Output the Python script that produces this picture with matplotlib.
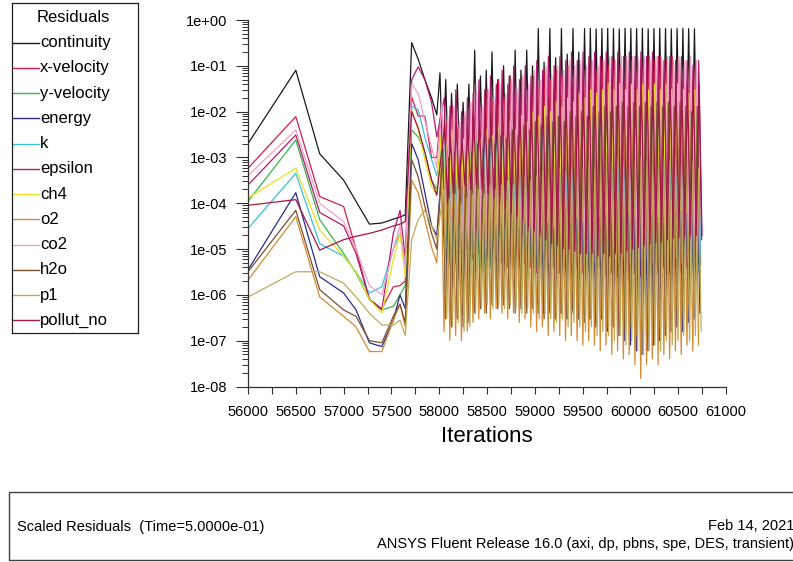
import numpy as np
import matplotlib
matplotlib.use('Agg')
import matplotlib.pyplot as plt
from matplotlib.ticker import LogLocator, MultipleLocator, FuncFormatter, NullFormatter
from matplotlib.patches import Rectangle

plt.rcParams['font.family'] = ['Liberation Sans', 'DejaVu Sans']

names = ['continuity', 'x-velocity', 'y-velocity', 'energy', 'k', 'epsilon',
         'ch4', 'o2', 'co2', 'h2o', 'p1', 'pollut_no']
colors = ['#1a1a1a', '#d0204a', '#3cb44b', '#2b2b8c', '#38c0d8', '#b01c6e',
          '#e8e020', '#d48a30', '#f0a0c8', '#7a5030', '#c0aa58', '#a01848']

# iterations before the periodic part
start_iters = [56000, 56500, 56750, 57000, 57130, 57270, 57400, 57520, 57590,
               57645, 57712, 57780, 57850, 57920, 57975]
# periodic part: one peak and one low per time step
step_first = 58008
step_len = 60.5
n_steps = 45
low_offset = 30
# iteration inside a step where each equation peaks
peak_shift = [0, 9, 18, 27, 36, 45, 4, 13, 22, 31, 40, 49]

cont_start = [2e-3, 8e-2, 1.2e-3, 3.2e-4, 1.1e-4, 3.5e-5, 3.7e-5, 4.5e-5, 5e-5, 5.6e-5, 3.2e-1, 1.4e-1, 5e-2, 2e-2, 8.5e-3]
cont_hi = [7e-2, 5e-2, 2.5e-2, 4e-2, 1.6e-2,
           4e-2, 2.2e-1, 6e-2, 8e-2, 2e-1,
           5e-2, 1e-1, 6e-2, 2.2e-1, 8e-2,
           2.2e-1, 1e-1, 6.5e-1, 1.2e-1, 6.5e-1,
           1.5e-1, 6.5e-1, 1.8e-1, 6.5e-1, 2e-1,
           6.5e-1, 6.6e-1, 6.4e-1, 6.5e-1, 6.6e-1,
           6.5e-1, 6.4e-1, 6.6e-1, 6.5e-1, 6.5e-1,
           6.6e-1, 6.4e-1, 6.5e-1, 6.6e-1, 6.5e-1,
           6.4e-1, 6.5e-1, 6.6e-1, 6.5e-1, 6.4e-1]
cont_lo = [5e-4, 3e-4, 4e-4, 2.5e-4, 3e-4,
           2e-4, 2.5e-4, 1.6e-4, 2e-4, 1.3e-4,
           1.6e-4, 1.2e-4, 1.5e-4, 1e-4, 1.3e-4,
           1e-4, 1.2e-4, 9e-5, 1.1e-4, 8e-5,
           1e-4, 8e-5, 1e-4, 7e-5, 9e-5,
           7e-5, 9e-5, 8e-5, 1e-4, 8e-5,
           9e-5, 1e-4, 8e-5, 1e-4, 9e-5,
           1e-4, 1.2e-4, 9e-5, 1.1e-4, 1e-4,
           1.1e-4, 1e-4, 1.2e-4, 1.1e-4, 1.2e-4]

xvel_start = [5.8e-4, 7.8e-3, 1.4e-4, 8.5e-5, 1e-5, 8e-7, 5e-7, 1.5e-6, 1.6e-6, 2e-6, 2.1e-2, 8e-3, 8e-3, 1e-3, 1e-3]
xvel_hi = [1e-2, 6e-3, 1.3e-2, 5e-3, 8e-3,
           1.6e-2, 4e-2, 1.3e-2, 3e-2, 1.6e-2,
           5e-2, 2e-2, 6e-2, 2.5e-2, 6e-2,
           3e-2, 6e-2, 4e-2, 8e-2, 5e-2,
           8e-2, 6e-2, 1e-1, 6e-2, 1e-1,
           8e-2, 1.3e-1, 8e-2, 1.3e-1, 1e-1,
           1.3e-1, 1e-1, 1.6e-1, 1.3e-1, 1.6e-1,
           1.3e-1, 1.6e-1, 1.3e-1, 1.6e-1, 1.3e-1,
           1.6e-1, 1.3e-1, 1e-1, 1.3e-1, 1e-1]
xvel_lo = [2e-5, 1e-5, 1.3e-5, 8e-6, 1e-5,
           6e-6, 8e-6, 5e-6, 6e-6, 4e-6,
           5e-6, 4e-6, 6e-6, 4e-6, 5e-6,
           4e-6, 3e-6, 5e-6, 3e-6, 4e-6,
           3e-6, 4e-6, 2.5e-6, 4e-6, 3e-6,
           4e-6, 3e-6, 4e-6, 2.5e-6, 3e-6,
           2.5e-6, 3e-6, 2e-6, 3e-6, 2.5e-6,
           3e-6, 2.5e-6, 3e-6, 4e-6, 3e-6,
           4e-6, 3e-6, 4e-6, 5e-6, 5e-6]

yvel_start = [1.1e-4, 2.4e-3, 4.4e-5, 8e-6, 3e-6, 8e-7, 4.7e-7, 5.6e-7, 1e-6, 1.6e-6, 4e-3, 2.8e-3, 1.3e-3, 3.2e-4, 2e-4]
yvel_hi = [1.6e-3, 1e-3, 2e-3, 8e-4, 1.3e-3,
           1.6e-3, 2.5e-3, 1.3e-3, 2e-3, 1.6e-3,
           2.5e-3, 2e-3, 3e-3, 2e-3, 4e-3,
           3e-3, 4e-3, 3e-3, 5e-3, 4e-3,
           5e-3, 4e-3, 6e-3, 5e-3, 6e-3,
           5e-3, 8e-3, 6e-3, 8e-3, 6e-3,
           8e-3, 6e-3, 1e-2, 8e-3, 1e-2,
           8e-3, 1e-2, 8e-3, 1e-2, 8e-3,
           1e-2, 8e-3, 1e-2, 8e-3, 1e-2]
yvel_lo = [8e-6, 4e-6, 5e-6, 3e-6, 4e-6,
           3e-6, 4e-6, 3e-6, 4e-6, 3e-6,
           4e-6, 5e-6, 4e-6, 5e-6, 4e-6,
           5e-6, 4e-6, 5e-6, 4e-6, 5e-6,
           4e-6, 3e-6, 4e-6, 3e-6, 4e-6,
           3e-6, 4e-6, 3e-6, 4e-6, 3e-6,
           4e-6, 3e-6, 4e-6, 3e-6, 4e-6,
           3e-6, 4e-6, 3e-6, 4e-6, 3e-6,
           4e-6, 3e-6, 4e-6, 3e-6, 3e-6]

energy_start = [3.5e-6, 1.7e-4, 2.5e-6, 1.1e-6, 4.7e-7, 9e-8, 7.4e-8, 2.8e-7, 1e-6, 5e-7, 2e-3, 9e-4, 1.7e-4, 3.2e-5, 2e-5]
energy_hi = [1e-3, 6e-4, 8e-4, 5e-4, 6e-4,
             8e-4, 1e-3, 8e-4, 1.3e-3, 1e-3,
             1.3e-3, 1e-3, 1.6e-3, 1.3e-3, 1.6e-3,
             1.3e-3, 2e-3, 1.6e-3, 2e-3, 1.6e-3,
             2e-3, 2.5e-3, 2e-3, 2.5e-3, 2e-3,
             2.5e-3, 3e-3, 2.5e-3, 3e-3, 2.5e-3,
             3e-3, 2.5e-3, 3e-3, 2.5e-3, 3e-3,
             2.5e-3, 3e-3, 2.5e-3, 3e-3, 2.5e-3,
             3e-3, 2.5e-3, 3e-3, 2.5e-3, 2e-3]
energy_lo = [1e-6, 5e-7, 8e-7, 4e-7, 6e-7,
             2e-6, 3e-6, 2e-6, 3e-6, 2e-6,
             3e-6, 2e-6, 1.6e-6, 2e-6, 1.3e-6,
             1e-6, 6e-7, 4e-7, 5e-7, 3e-7,
             4e-7, 3e-7, 5e-7, 3e-7, 4e-7,
             3e-7, 2e-7, 3e-7, 1.6e-7, 2e-7,
             1.3e-7, 1e-7, 8e-8, 6e-8, 5e-8,
             6e-8, 8e-8, 1e-7, 1.3e-7, 1.6e-7,
             2e-7, 1.6e-7, 2.5e-7, 3e-7, 4e-7]

k_start = [2.8e-5, 4.5e-4, 1.3e-5, 7e-6, 3.2e-6, 1.1e-6, 1.5e-6, 1e-5, 2.2e-5, 5e-6, 1.3e-2, 1.1e-2, 2.8e-3, 9e-4, 4e-4]
k_hi = [2.5e-3, 1.6e-3, 3e-3, 1.3e-3, 2e-3,
        2.5e-3, 3e-3, 2e-3, 3e-3, 2.5e-3,
        3e-3, 4e-3, 3e-3, 5e-3, 4e-3,
        5e-3, 4e-3, 6e-3, 5e-3, 6e-3,
        5e-3, 6e-3, 8e-3, 6e-3, 8e-3,
        6e-3, 8e-3, 1e-2, 8e-3, 1e-2,
        8e-3, 1e-2, 8e-3, 1e-2, 8e-3,
        1e-2, 8e-3, 1e-2, 8e-3, 1e-2,
        8e-3, 1e-2, 8e-3, 1e-2, 8e-3]
k_lo = [1e-5, 5e-6, 4e-6, 3e-6, 4e-6,
        5e-6, 8e-6, 1e-5, 1.3e-5, 1.6e-5,
        1.3e-5, 1.6e-5, 1.3e-5, 1e-5, 1.3e-5,
        1e-5, 1.3e-5, 1e-5, 8e-6, 1e-5,
        8e-6, 1e-5, 8e-6, 6e-6, 8e-6,
        6e-6, 8e-6, 6e-6, 8e-6, 6e-6,
        8e-6, 6e-6, 8e-6, 6e-6, 8e-6,
        6e-6, 8e-6, 6e-6, 5e-6, 6e-6,
        5e-6, 6e-6, 5e-6, 5e-6, 4.5e-6]

eps_start = [2.5e-4, 3.1e-3, 6.3e-5, 3.2e-5, 8e-6, 8e-7, 4.7e-7, 2.2e-5, 7e-5, 6.3e-6, 5e-2, 9.5e-2, 5e-2, 1.6e-2, 2.8e-3]
eps_hi = [2e-2, 1.3e-2, 3e-2, 1e-2, 2e-2,
          2.5e-2, 5e-2, 3e-2, 6e-2, 4e-2,
          8e-2, 4e-2, 1e-1, 5e-2, 1e-1,
          6e-2, 1.3e-1, 8e-2, 1.6e-1, 1e-1,
          1.6e-1, 1.3e-1, 2e-1, 1.3e-1, 2e-1,
          1.6e-1, 2e-1, 1.6e-1, 2e-1, 1.6e-1,
          2e-1, 1.6e-1, 2e-1, 1.6e-1, 2e-1,
          1.6e-1, 2e-1, 1.6e-1, 1.3e-1, 1.6e-1,
          1.3e-1, 1.6e-1, 1.3e-1, 1e-1, 1.3e-1]
eps_lo = [6e-5, 4e-5, 5e-5, 3e-5, 4e-5,
          3e-5, 4e-5, 2.5e-5, 3e-5, 2e-5,
          3e-5, 2e-5, 2.5e-5, 2e-5, 2.5e-5,
          2e-5, 2.5e-5, 1.6e-5, 2e-5, 1.6e-5,
          2e-5, 1.6e-5, 2e-5, 1.3e-5, 1.6e-5,
          1.3e-5, 1.6e-5, 1.3e-5, 1.6e-5, 1.3e-5,
          1.6e-5, 1.3e-5, 1.6e-5, 1.3e-5, 1.6e-5,
          1.3e-5, 1.6e-5, 1.3e-5, 1.6e-5, 1.5e-5,
          1.6e-5, 1.5e-5, 1.6e-5, 1.5e-5, 1.6e-5]

ch4_start = [1.3e-4, 5.8e-4, 2.6e-5, 7e-6, 3.2e-6, 8e-7, 4e-7, 5.8e-6, 2.2e-5, 2.5e-6, 1.1e-2, 4e-3, 9e-4, 2.3e-4, 1.5e-4]
ch4_hi = [3e-3, 2e-3, 4e-3, 1.6e-3, 2.5e-3,
          2e-3, 3e-3, 2.5e-3, 4e-3, 3e-3,
          5e-3, 3e-3, 6e-3, 4e-3, 8e-3,
          6e-3, 1e-2, 8e-3, 1.3e-2, 1e-2,
          1.6e-2, 1.3e-2, 2e-2, 1.6e-2, 2.5e-2,
          2e-2, 3e-2, 2.5e-2, 3e-2, 4e-2,
          3e-2, 4e-2, 3e-2, 4e-2, 3e-2,
          4e-2, 3e-2, 4e-2, 3e-2, 4e-2,
          3e-2, 4e-2, 3e-2, 2.5e-2, 3e-2]
ch4_lo = [1e-4, 6e-5, 8e-5, 5e-5, 6e-5,
          4e-5, 5e-5, 3e-5, 4e-5, 3e-5,
          4e-5, 3e-5, 4e-5, 3e-5, 4e-5,
          3e-5, 4e-5, 3e-5, 4e-5, 3e-5,
          4e-5, 5e-5, 4e-5, 5e-5, 4e-5,
          5e-5, 4e-5, 5e-5, 6e-5, 5e-5,
          6e-5, 5e-5, 6e-5, 5e-5, 6e-5,
          5e-5, 6e-5, 5e-5, 6e-5, 6e-5,
          6e-5, 7e-5, 6e-5, 7e-5, 7e-5]

o2_start = [2.1e-6, 5.1e-5, 9e-7, 3.4e-7, 2e-7, 5.8e-8, 5.8e-8, 2.8e-7, 6.3e-7, 2e-7, 3.2e-4, 1.7e-4, 4.4e-5, 1.1e-5, 5e-6]
o2_hi = [6e-4, 4e-4, 5e-4, 3e-4, 4e-4,
         5e-4, 6e-4, 5e-4, 8e-4, 6e-4,
         8e-4, 1e-3, 8e-4, 1.3e-3, 1e-3,
         1.3e-3, 1e-3, 1.6e-3, 1.3e-3, 1.6e-3,
         2e-3, 1.6e-3, 2e-3, 2.5e-3, 2e-3,
         2.5e-3, 3e-3, 2.5e-3, 3e-3, 4e-3,
         3e-3, 4e-3, 3e-3, 4e-3, 3e-3,
         4e-3, 3e-3, 4e-3, 3e-3, 4e-3,
         3e-3, 4e-3, 3e-3, 4e-3, 3e-3]
o2_lo = [1.6e-7, 1e-7, 1.3e-7, 1e-7, 1.6e-7,
         2.5e-7, 3e-7, 4e-7, 3e-7, 5e-7,
         4e-7, 3e-7, 4e-7, 2.5e-7, 3e-7,
         2e-7, 1.6e-7, 2e-7, 1.3e-7, 1.6e-7,
         1.3e-7, 1e-7, 1.3e-7, 1e-7, 8e-8,
         1e-7, 8e-8, 6e-8, 8e-8, 5e-8,
         6e-8, 4e-8, 5e-8, 3e-8, 1.5e-8,
         3e-8, 4e-8, 3e-8, 5e-8, 4e-8,
         6e-8, 5e-8, 8e-8, 6e-8, 8e-8]

co2_start = [4e-4, 4e-3, 1e-4, 4e-5, 1e-5, 1.6e-6, 1e-6, 1e-5, 3.2e-5, 4e-6, 4e-2, 2.5e-2, 6.3e-3, 1.7e-3, 6e-4]
co2_hi = [1.6e-2, 8e-3, 1.3e-2, 6e-3, 1e-2,
          1.6e-2, 2.5e-2, 1.3e-2, 3e-2, 2e-2,
          4e-2, 2.5e-2, 5e-2, 3e-2, 6e-2,
          4e-2, 8e-2, 5e-2, 1e-1, 6e-2,
          1e-1, 8e-2, 1.3e-1, 1e-1, 1.3e-1,
          1e-1, 1.3e-1, 1e-1, 1.3e-1, 1.6e-1,
          1.3e-1, 1.6e-1, 1.3e-1, 1.6e-1, 1.3e-1,
          1.6e-1, 1.3e-1, 1.6e-1, 1.3e-1, 1.6e-1,
          1.3e-1, 1.6e-1, 1.3e-1, 1.6e-1, 1.3e-1]
co2_lo = [2e-5, 1.3e-5, 1.6e-5, 1e-5, 1.3e-5,
          1e-5, 1.3e-5, 8e-6, 1e-5, 8e-6,
          1e-5, 8e-6, 6e-6, 8e-6, 6e-6,
          8e-6, 6e-6, 8e-6, 5e-6, 6e-6,
          5e-6, 6e-6, 5e-6, 6e-6, 5e-6,
          6e-6, 5e-6, 6e-6, 5e-6, 6e-6,
          5e-6, 6e-6, 5e-6, 6e-6, 5e-6,
          6e-6, 5e-6, 6e-6, 5e-6, 6e-6,
          6e-6, 5e-6, 6e-6, 6e-6, 8e-6]

h2o_start = [3.2e-6, 7e-5, 1.3e-6, 4.7e-7, 3.4e-7, 1e-7, 9e-8, 3.4e-7, 6.3e-7, 2.5e-7, 9e-4, 3.8e-4, 8.5e-5, 2.2e-5, 1e-5]
h2o_hi = [1.6e-3, 1e-3, 1.3e-3, 8e-4, 1e-3,
          1.3e-3, 2e-3, 1.6e-3, 2.5e-3, 2e-3,
          3e-3, 2.5e-3, 4e-3, 3e-3, 5e-3,
          4e-3, 6e-3, 5e-3, 8e-3, 6e-3,
          8e-3, 6e-3, 1e-2, 8e-3, 1e-2,
          8e-3, 1.3e-2, 1e-2, 1.3e-2, 1e-2,
          1.3e-2, 1.6e-2, 1.3e-2, 1.6e-2, 1.3e-2,
          1.6e-2, 1.3e-2, 1.6e-2, 1.3e-2, 1.6e-2,
          1.3e-2, 1.6e-2, 1.3e-2, 1e-2, 1.3e-2]
h2o_lo = [3e-7, 2e-7, 3e-7, 2e-7, 2.5e-7,
          4e-7, 5e-7, 4e-7, 6e-7, 5e-7,
          6e-7, 5e-7, 4e-7, 5e-7, 4e-7,
          5e-7, 4e-7, 3e-7, 4e-7, 3e-7,
          4e-7, 3e-7, 4e-7, 3e-7, 2.5e-7,
          3e-7, 2.5e-7, 3e-7, 2e-7, 2.5e-7,
          2e-7, 1.6e-7, 2e-7, 1.3e-7, 1.6e-7,
          1.3e-7, 1.6e-7, 2e-7, 2.5e-7, 3e-7,
          4e-7, 5e-7, 6e-7, 8e-7, 1e-6]

p1_start = [9e-7, 3.2e-6, 3.2e-6, 1.8e-6, 9e-7, 4e-7, 2.2e-7, 2.2e-7, 2.8e-7, 1.3e-7, 1.6e-5, 4.4e-5, 7e-5, 3.2e-5, 1.6e-5]
p1_hi = [2e-4, 1.3e-4, 1.6e-4, 1e-4, 1.3e-4,
         1.6e-4, 2e-4, 1.6e-4, 2.5e-4, 2e-4,
         2.5e-4, 3e-4, 2.5e-4, 3e-4, 4e-4,
         3e-4, 4e-4, 5e-4, 4e-4, 5e-4,
         6e-4, 5e-4, 6e-4, 8e-4, 6e-4,
         8e-4, 6e-4, 8e-4, 1e-3, 8e-4,
         1e-3, 8e-4, 1e-3, 8e-4, 1e-3,
         8e-4, 1e-3, 8e-4, 1e-3, 8e-4,
         1e-3, 8e-4, 1e-3, 8e-4, 6e-4]
p1_lo = [3e-7, 2e-7, 2.5e-7, 1.6e-7, 2e-7,
         4e-7, 5e-7, 6e-7, 5e-7, 6e-7,
         5e-7, 6e-7, 5e-7, 4e-7, 5e-7,
         4e-7, 3e-7, 4e-7, 3e-7, 2.5e-7,
         3e-7, 2e-7, 2.5e-7, 2e-7, 1.6e-7,
         2e-7, 1.3e-7, 1.6e-7, 1.3e-7, 1e-7,
         1.3e-7, 8e-8, 1e-7, 6e-8, 5e-8,
         6e-8, 8e-8, 6e-8, 1e-7, 8e-8,
         1e-7, 1.3e-7, 1e-7, 1.3e-7, 1.6e-7]

pno_start = [9e-5, 1.2e-4, 9.5e-6, 1.6e-5, 1.9e-5, 2.2e-5, 2.6e-5, 3.2e-5, 3.5e-5, 4e-5, 1e-2, 4.4e-3, 1.3e-3, 3.2e-4, 1.5e-4]
pno_hi = [5e-3, 3e-3, 6e-3, 2.5e-3, 4e-3,
          8e-3, 5e-3, 1e-2, 6e-3, 1.3e-2,
          8e-3, 1.6e-2, 1e-2, 2e-2, 1.3e-2,
          2e-2, 1.6e-2, 2.5e-2, 2e-2, 3e-2,
          2.5e-2, 3e-2, 4e-2, 3e-2, 4e-2,
          5e-2, 4e-2, 5e-2, 6e-2, 5e-2,
          6e-2, 5e-2, 6e-2, 5e-2, 6e-2,
          5e-2, 6e-2, 5e-2, 6e-2, 5e-2,
          6e-2, 5e-2, 4e-2, 5e-2, 4e-2]
pno_lo = [1e-4, 1.6e-4, 2e-4, 2.5e-4, 2e-4,
          2.5e-4, 2e-4, 1.6e-4, 1.3e-4, 1e-4,
          8e-5, 6e-5, 5e-5, 4e-5, 3e-5,
          2.5e-5, 2e-5, 1.6e-5, 1.3e-5, 1.2e-5,
          1e-5, 1e-5, 9e-6, 8e-6, 8e-6,
          8e-6, 7e-6, 8e-6, 7e-6, 8e-6,
          8e-6, 9e-6, 1e-5, 1.1e-5, 1.2e-5,
          1.3e-5, 1.4e-5, 1.5e-5, 1.6e-5, 1.7e-5,
          1.8e-5, 1.9e-5, 2e-5, 2e-5, 2e-5]

series = [
    (cont_start, cont_hi, cont_lo),
    (xvel_start, xvel_hi, xvel_lo),
    (yvel_start, yvel_hi, yvel_lo),
    (energy_start, energy_hi, energy_lo),
    (k_start, k_hi, k_lo),
    (eps_start, eps_hi, eps_lo),
    (ch4_start, ch4_hi, ch4_lo),
    (o2_start, o2_hi, o2_lo),
    (co2_start, co2_hi, co2_lo),
    (h2o_start, h2o_hi, h2o_lo),
    (p1_start, p1_hi, p1_lo),
    (pno_start, pno_hi, pno_lo),
]

step_iters = step_first + step_len * np.arange(n_steps)


def residual_trace(start, hi, lo, shift):
    # start-up points, then peak / low of every time step
    cx = np.empty(2 * n_steps)
    cx[0::2] = step_iters + shift
    cx[1::2] = step_iters + shift + low_offset
    cy = np.empty(2 * n_steps)
    cy[0::2] = hi
    cy[1::2] = lo
    return np.concatenate([start_iters, cx]), np.concatenate([start, cy])


W, H = 793, 562
fig = plt.figure(figsize=(W / 100, H / 100), dpi=100)

# main residual plot
ax = fig.add_axes([248 / W, 1 - 386.5 / H, 478 / W, 366.5 / H])
for (start, hi, lo), c, sh in zip(series, colors, peak_shift):
    xs, ys = residual_trace(start, hi, lo, sh)
    ax.plot(xs, ys, color=c, lw=0.9)

ax.set_yscale('log')
ax.set_ylim(1e-8, 1)
ax.set_xlim(56000, 61000)
for s in ['top', 'right']:
    ax.spines[s].set_visible(False)
for s in ['left', 'bottom']:
    ax.spines[s].set_color('#303030')
    ax.spines[s].set_linewidth(0.9)

ax.yaxis.set_major_locator(LogLocator(base=10, numticks=20))
ax.yaxis.set_minor_locator(LogLocator(base=10, subs=np.arange(2, 10), numticks=20))
ax.yaxis.set_major_formatter(FuncFormatter(lambda v, p: f'{v:.0e}'))
ax.yaxis.set_minor_formatter(NullFormatter())
ax.xaxis.set_major_locator(MultipleLocator(500))
ax.xaxis.set_minor_locator(MultipleLocator(250))
ax.tick_params(axis='y', which='major', length=9, width=0.8, pad=6, labelsize=10.5, color='#303030')
ax.tick_params(axis='y', which='minor', length=4, width=0.7, color='#303030')
ax.tick_params(axis='x', which='both', length=5, width=0.8, color='#303030')
ax.tick_params(axis='x', which='major', pad=8, labelsize=10.5)

fig.text(487 / W, 1 - 437 / H, 'Iterations', ha='center', va='center', fontsize=16)

# legend panel
lax = fig.add_axes([12 / W, 1 - 333 / H, 126 / W, 330 / H])
lax.set_xlim(0, 126)
lax.set_ylim(330, 0)
lax.set_xticks([])
lax.set_yticks([])
for s in lax.spines.values():
    s.set_color('#202020')
    s.set_linewidth(0.9)
lax.text(61, 14, 'Residuals', ha='center', va='center', fontsize=12)
for i, (name, c) in enumerate(zip(names, colors)):
    yy = 39.7 + 25.25 * i
    lax.plot([0, 27], [yy, yy], color=c, lw=1.0)
    lax.text(28, yy, name, ha='left', va='center', fontsize=12)

# info box at the bottom
fig.add_artist(Rectangle((9 / W, 1 - 560 / H), 800 / W, 68 / H, transform=fig.transFigure,
                         fill=False, edgecolor='#404040', lw=1.0))
fig.text(17 / W, 1 - 527 / H, 'Scaled Residuals  (Time=5.0000e-01)', ha='left', va='center', fontsize=10.5)
fig.text(794 / W, 1 - 526 / H, 'Feb 14, 2021', ha='right', va='center', fontsize=10.5)
fig.text(794 / W, 1 - 544 / H, 'ANSYS Fluent Release 16.0 (axi, dp, pbns, spe, DES, transient)',
         ha='right', va='center', fontsize=10.5)

fig.savefig('out.png', dpi=100)
